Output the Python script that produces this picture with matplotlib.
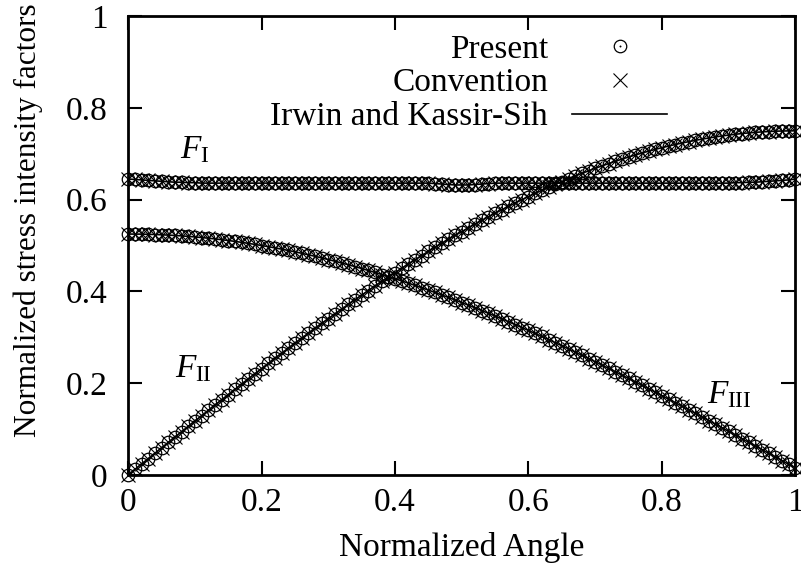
import numpy as np
import matplotlib
matplotlib.use("Agg")
from matplotlib import pyplot as plt
from matplotlib.legend_handler import HandlerTuple

plt.rcParams['font.family'] = ['Liberation Serif', 'DejaVu Serif']
plt.rcParams['mathtext.fontset'] = 'custom'
plt.rcParams['mathtext.rm'] = 'Liberation Serif'
plt.rcParams['mathtext.it'] = 'Liberation Serif:italic'

# normalized angle, 101 samples
angle = np.arange(101) / 100.0

sif_1 = [0.645, 0.644, 0.643, 0.642, 0.641, 0.640, 0.639, 0.638, 0.638, 0.637, 0.637,
         0.636, 0.636, 0.636, 0.636, 0.636, 0.636, 0.636, 0.636, 0.636, 0.636,
         0.636, 0.636, 0.636, 0.636, 0.636, 0.636, 0.636, 0.636, 0.636, 0.636,
         0.636, 0.636, 0.636, 0.636, 0.636, 0.636, 0.636, 0.636, 0.636, 0.636,
         0.636, 0.636, 0.636, 0.636, 0.636,
         0.635, 0.634, 0.633, 0.632, 0.632, 0.632, 0.633, 0.634, 0.635,
         0.636, 0.636, 0.636, 0.636, 0.636, 0.636, 0.636, 0.636, 0.636, 0.636,
         0.636, 0.636, 0.636, 0.636, 0.636, 0.636, 0.636, 0.636, 0.636, 0.636,
         0.636, 0.636, 0.636, 0.636, 0.636, 0.636, 0.636, 0.636, 0.636, 0.636,
         0.636, 0.636, 0.636, 0.636, 0.636, 0.636,
         0.637, 0.637, 0.638, 0.638, 0.639, 0.640, 0.641, 0.642, 0.643, 0.645]

sif_2 = [0.0, 0.0118, 0.0236, 0.0353, 0.0471, 0.0588, 0.0706, 0.0823, 0.0940, 0.1057,
         0.1173, 0.1289, 0.1405, 0.1521, 0.1636, 0.1751, 0.1865, 0.1979, 0.2092, 0.2205,
         0.2318, 0.2429, 0.2541, 0.2651, 0.2761, 0.2870, 0.2979, 0.3086, 0.3193, 0.3300,
         0.3405, 0.3509, 0.3613, 0.3716, 0.3818, 0.3919, 0.4019, 0.4118, 0.4216, 0.4313,
         0.4408, 0.4503, 0.4597, 0.4689, 0.4781, 0.4871, 0.4960, 0.5048, 0.5134, 0.5219,
         0.5303, 0.5386, 0.5467, 0.5547, 0.5626, 0.5703, 0.5779, 0.5853, 0.5926, 0.5998,
         0.6068, 0.6136, 0.6203, 0.6269, 0.6332, 0.6395, 0.6456, 0.6515, 0.6572, 0.6628,
         0.6683, 0.6735, 0.6786, 0.6836, 0.6883, 0.6929, 0.6973, 0.7016, 0.7057, 0.7096,
         0.7133, 0.7168, 0.7202, 0.7234, 0.7264, 0.7293, 0.7319, 0.7344, 0.7367, 0.7388,
         0.7408, 0.7425, 0.7441, 0.7455, 0.7467, 0.7477, 0.7485, 0.7492, 0.7496, 0.7499,
         0.75]

sif_3 = [0.525, 0.5249, 0.5248, 0.5244, 0.5240, 0.5234, 0.5227, 0.5219, 0.5210, 0.5199,
         0.5187, 0.5174, 0.5160, 0.5144, 0.5127, 0.5109, 0.5090, 0.5069, 0.5047, 0.5024,
         0.5000, 0.4975, 0.4948, 0.4921, 0.4892, 0.4862, 0.4831, 0.4798, 0.4765, 0.4730,
         0.4694, 0.4657, 0.4619, 0.4580, 0.4540, 0.4498, 0.4456, 0.4413, 0.4368, 0.4323,
         0.4276, 0.4228, 0.4180, 0.4130, 0.4080, 0.4028, 0.3976, 0.3922, 0.3868, 0.3812,
         0.3756, 0.3699, 0.3641, 0.3582, 0.3523, 0.3462, 0.3401, 0.3339, 0.3276, 0.3212,
         0.3148, 0.3083, 0.3017, 0.2950, 0.2883, 0.2815, 0.2746, 0.2677, 0.2607, 0.2536,
         0.2465, 0.2394, 0.2321, 0.2249, 0.2175, 0.2102, 0.2027, 0.1953, 0.1878, 0.1802,
         0.1726, 0.1650, 0.1573, 0.1496, 0.1418, 0.1341, 0.1263, 0.1184, 0.1106, 0.1027,
         0.0948, 0.0869, 0.0789, 0.0710, 0.0630, 0.0550, 0.0470, 0.0390, 0.0310, 0.0230,
         0.0150]

ticks = [0, 0.2, 0.4, 0.6, 0.8, 1]
tick_labels = ['0', '0.2', '0.4', '0.6', '0.8', '1']
curve_labels = [r'$F_{\mathrm{I}}$', r'$F_{\mathrm{II}}$', r'$F_{\mathrm{III}}$']
label_pos = [(0.078, 0.69), (0.07, 0.213), (0.868, 0.157)]

fig = plt.figure(figsize=(8.01, 5.77), dpi=100)
ax = fig.add_axes([0.160, 0.177, 0.833, 0.795])

fs = 24
for sif in [sif_1, sif_2, sif_3]:
    line, = ax.plot(angle, sif, color='black', lw=1.2, clip_on=False)
    cross, = ax.plot(angle, sif, ls='none', marker='x', ms=10.5, mew=0.8,
                     color='black', clip_on=False)
    circ, = ax.plot(angle, sif, ls='none', marker='o', ms=9, mew=0.9,
                    mfc='none', mec='black', clip_on=False)
    dot, = ax.plot(angle, sif, ls='none', marker='o', ms=1.4, mew=0,
                   color='black', clip_on=False)

for lab, (lx, ly) in zip(curve_labels, label_pos):
    ax.text(lx, ly, lab, fontsize=24, ha='left', va='baseline')

ax.set_xlim(0, 1)
ax.set_ylim(0, 1)
ax.set_xticks(ticks)
ax.set_xticklabels(tick_labels)
ax.set_yticks(ticks)
ax.set_yticklabels(tick_labels)
ax.tick_params(direction='in', top=True, right=True, length=10, width=1.5,
               labelsize=fs)
ax.tick_params(axis='x', pad=9)
ax.tick_params(axis='y', pad=15)
for s in ax.spines.values():
    s.set_linewidth(2)
ax.set_xlabel('Normalized Angle', fontsize=fs, labelpad=10)
ax.set_ylabel('Normalized stress intensity factors', fontsize=22.5)
ax.yaxis.set_label_coords(-0.127, 0.556)

leg = ax.legend([(circ, dot), cross, line],
                ['Present', 'Convention', 'Irwin and Kassir-Sih'],
                handler_map={tuple: HandlerTuple(ndivide=1)},
                loc='upper right', bbox_to_anchor=(667 / 801, 1 - 34 / 577),
                bbox_transform=fig.transFigure, frameon=False, markerfirst=False,
                fontsize=fs, handlelength=2.85, handletextpad=0.72,
                labelspacing=0.1, borderpad=0, borderaxespad=0, numpoints=1)

fig.savefig('out.png', dpi=100)
